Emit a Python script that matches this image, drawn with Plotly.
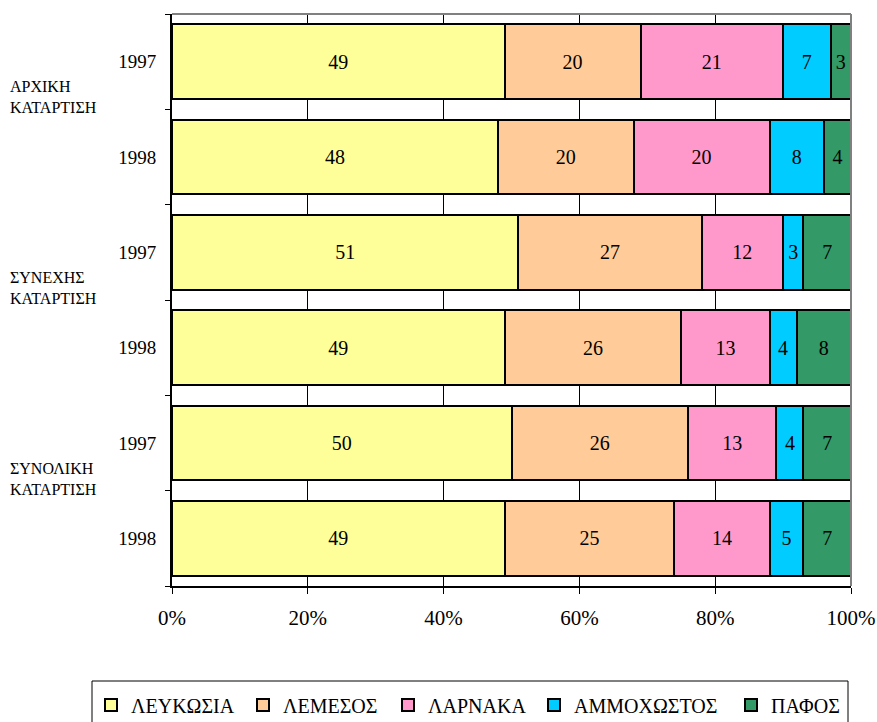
import plotly.graph_objects as go

groups = ["ΑΡΧΙΚΗ<br>ΚΑΤΑΡΤΙΣΗ", "ΣΥΝΕΧΗΣ<br>ΚΑΤΑΡΤΙΣΗ", "ΣΥΝΟΛΙΚΗ<br>ΚΑΤΑΡΤΙΣΗ"]
years = ["1997", "1998"]
categories = ["A-1997", "A-1998", "S-1997", "S-1998", "T-1997", "T-1998"]
cat_labels = ["1997", "1998", "1997", "1998", "1997", "1998"]

series_names = ["ΛΕΥΚΩΣΙΑ", "ΛΕΜΕΣΟΣ", "ΛΑΡΝΑΚΑ", "ΑΜΜΟΧΩΣΤΟΣ", "ΠΑΦΟΣ"]
lefkosia = [49, 48, 51, 49, 50, 49]
lemesos = [20, 20, 27, 26, 26, 25]
larnaka = [21, 20, 12, 13, 13, 14]
ammochostos = [7, 8, 3, 4, 4, 5]
pafos = [3, 4, 7, 8, 7, 7]
series_values = [lefkosia, lemesos, larnaka, ammochostos, pafos]
colors = ["#FFFF99", "#FFCC99", "#FF99CC", "#00CCFF", "#339966"]

x_ticks = [0, 20, 40, 60, 80, 100]
x_ticktext = ["0%", "20%", "40%", "60%", "80%", "100%"]

FONT = "Times New Roman"
W, H = 877, 722
legend_left_px = [91, 243, 388, 534, 731]  # where each legend entry starts

fig = go.Figure()
for k, (name, vals, col) in enumerate(zip(series_names, series_values, colors)):
    fig.add_trace(go.Bar(
        y=categories, x=vals, name=name, orientation="h",
        marker=dict(color=col, line=dict(color="black", width=2)),
        text=[str(v) for v in vals], textposition="inside",
        insidetextanchor="middle", constraintext="none",
        textfont=dict(family=FONT, size=20, color="black"),
        hoverinfo="skip",
        legend="legend" if k == 0 else f"legend{k + 1}",
    ))

# group labels
for i, g in enumerate(groups):
    fig.add_annotation(
        x=0, xref="paper", xshift=-164, xanchor="left",
        y=2 * i + 0.5, yref="y", yshift=12, yanchor="middle",
        text=g, showarrow=False, align="left",
        font=dict(family=FONT, size=16, color="black"),
    )

# gray top/right border
fig.add_shape(type="line", xref="paper", yref="paper", x0=0, x1=1, y0=1, y1=1,
              line=dict(color="#808080", width=2))
fig.add_shape(type="line", xref="paper", yref="paper", x0=1, x1=1, y0=0, y1=1,
              line=dict(color="#808080", width=2))
# legend frame
fig.add_shape(type="rect", xref="paper", yref="paper",
              x0=(92 - 172) / 679, x1=(848 - 172) / 679,
              y0=(586 - 681) / 572, y1=(586 - 740) / 572,
              line=dict(color="black", width=1), fillcolor="rgba(0,0,0,0)")

legend_common = dict(
    orientation="h", xref="container", yref="container",
    xanchor="left", y=1 - 705 / H, yanchor="middle",
    borderwidth=0, bgcolor="rgba(0,0,0,0)",
    font=dict(family=FONT, size=20, color="black"),
    itemwidth=30,
)
legends = {}
for k, lx in enumerate(legend_left_px):
    key = "legend" if k == 0 else f"legend{k + 1}"
    legends[key] = dict(legend_common, x=lx / W)

fig.update_layout(
    width=W, height=H,
    margin=dict(l=172, r=26, t=14, b=136, autoexpand=False),
    barmode="stack", bargap=0.22,
    paper_bgcolor="white", plot_bgcolor="white",
    font=dict(family=FONT, color="black"),
    uniformtext=dict(mode="show", minsize=20),
    showlegend=True,
    xaxis=dict(
        range=[0, 100], tickvals=x_ticks, ticktext=x_ticktext,
        showgrid=True, gridcolor="black", gridwidth=1,
        showline=True, linecolor="black", linewidth=2,
        ticks="outside", ticklen=6, tickcolor="black", tickwidth=1,
        ticklabelstandoff=6,
        tickfont=dict(family=FONT, size=21, color="black"),
        zeroline=False, fixedrange=True, automargin=False,
    ),
    yaxis=dict(
        type="category", categoryorder="array", categoryarray=categories,
        autorange="reversed",
        tickvals=categories, ticktext=cat_labels,
        tickson="boundaries", ticks="outside", ticklen=5, tickcolor="black",
        showgrid=False,
        showline=True, linecolor="black", linewidth=2,
        tickfont=dict(family=FONT, size=19, color="black"),
        ticklabelstandoff=10,
        fixedrange=True, automargin=False,
    ),
    **legends,
)

fig.write_html("out.html", config={"displayModeBar": False},
               post_script="document.body.style.margin='0';")
